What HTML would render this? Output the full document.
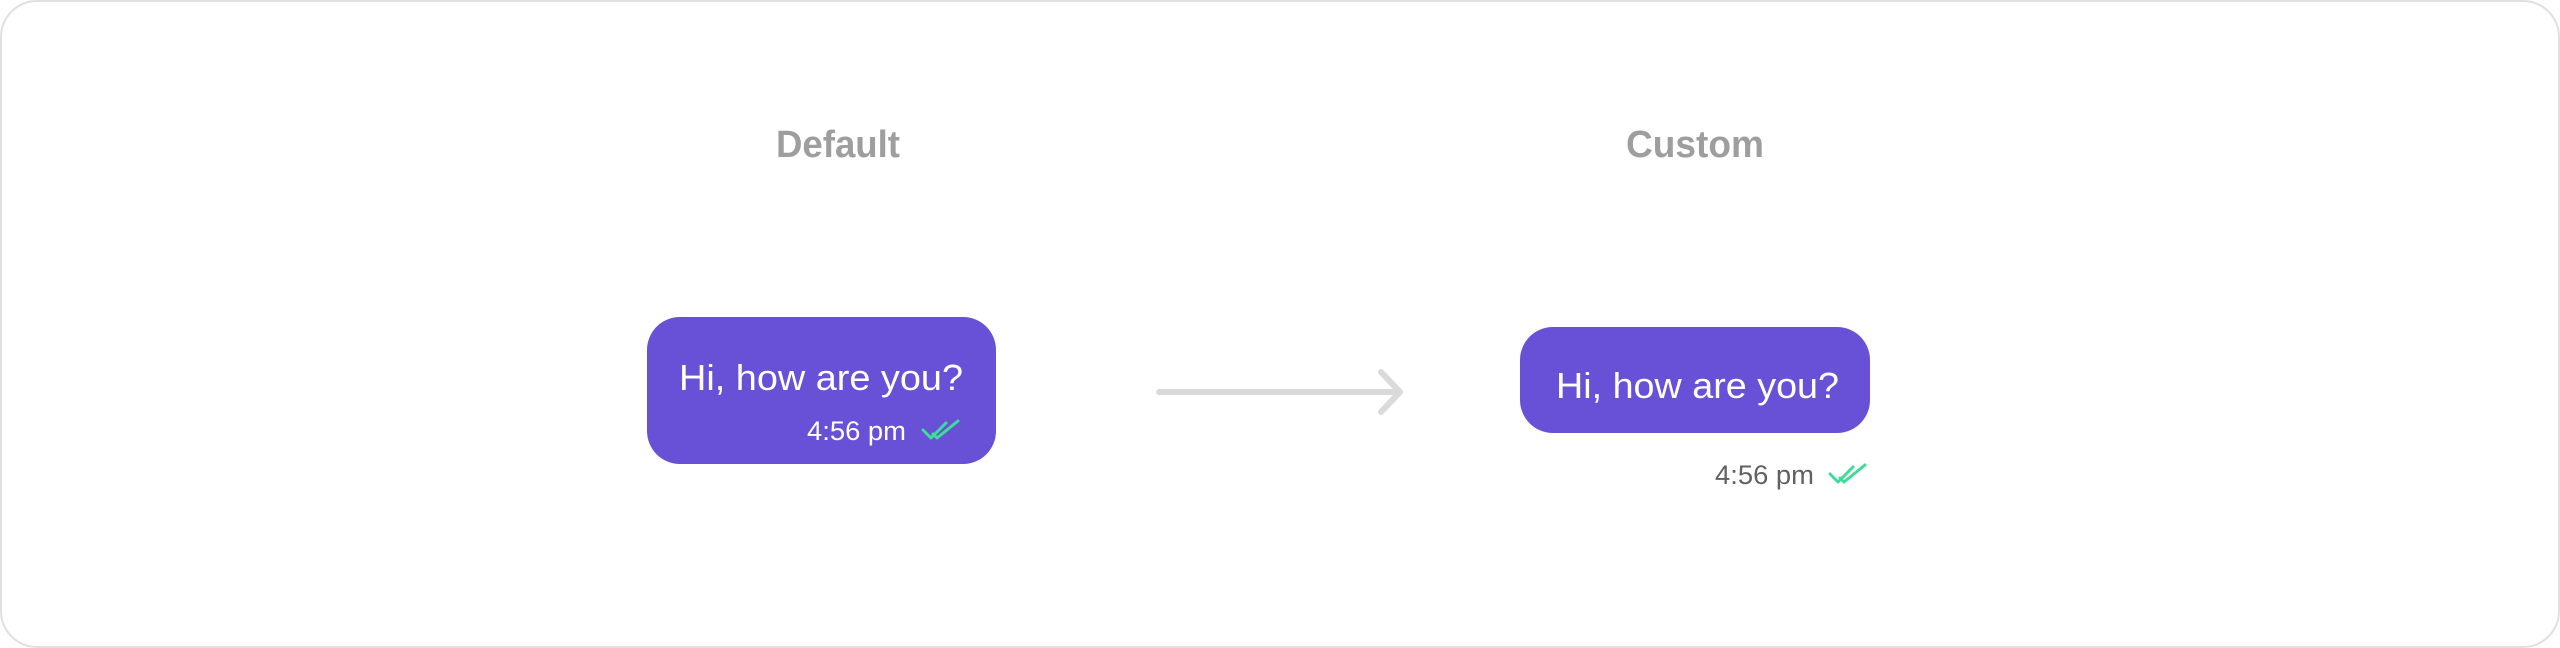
<!DOCTYPE html>
<html><head><meta charset="utf-8"><style>
html,body{margin:0;padding:0;background:#fff;}
svg{display:block;}
text{font-family:"Liberation Sans",sans-serif;}
</style></head><body>
<svg width="2560" height="648" viewBox="0 0 2560 648" xmlns="http://www.w3.org/2000/svg">
<rect x="1" y="1" width="2558" height="646" rx="36" fill="#fff" stroke="#e0e0e0" stroke-width="2"/>
<text x="838" y="157" font-size="38" font-weight="bold" fill="#9e9e9e" text-anchor="middle" textLength="124" lengthAdjust="spacingAndGlyphs">Default</text>
<text x="1695" y="157" font-size="38" font-weight="bold" fill="#9e9e9e" text-anchor="middle" textLength="138" lengthAdjust="spacingAndGlyphs">Custom</text>

<rect x="647" y="317" width="349" height="147" rx="33" fill="#6851d6"/>
<text x="679" y="390" font-size="36" fill="#fff" textLength="284" lengthAdjust="spacingAndGlyphs">Hi, how are you?</text>
<text x="807" y="440" font-size="27" fill="#fff" textLength="99" lengthAdjust="spacingAndGlyphs">4:56 pm</text>
<g fill="none" stroke="#3ddc97" stroke-width="3" stroke-linecap="round" stroke-linejoin="round">
<path d="M923 430 L931 438 L946 423"/><path d="M933 434 L937 438 L958 421"/>
</g>

<g stroke="#dadada" stroke-width="6" stroke-linecap="round" stroke-linejoin="round" fill="none">
<path d="M1159 392 L1399 392"/><path d="M1381 372 L1400 392 L1381 412"/>
</g>

<rect x="1520" y="327" width="350" height="106" rx="33" fill="#6851d6"/>
<text x="1556" y="398" font-size="36" fill="#fff" textLength="283" lengthAdjust="spacingAndGlyphs">Hi, how are you?</text>
<text x="1715" y="484" font-size="27" fill="#616161" textLength="99" lengthAdjust="spacingAndGlyphs">4:56 pm</text>
<g fill="none" stroke="#3ddc97" stroke-width="3" stroke-linecap="round" stroke-linejoin="round">
<path d="M1830 474 L1838 482 L1853 467"/><path d="M1840 478 L1844 482 L1865 465"/>
</g>
</svg>
</body></html>
